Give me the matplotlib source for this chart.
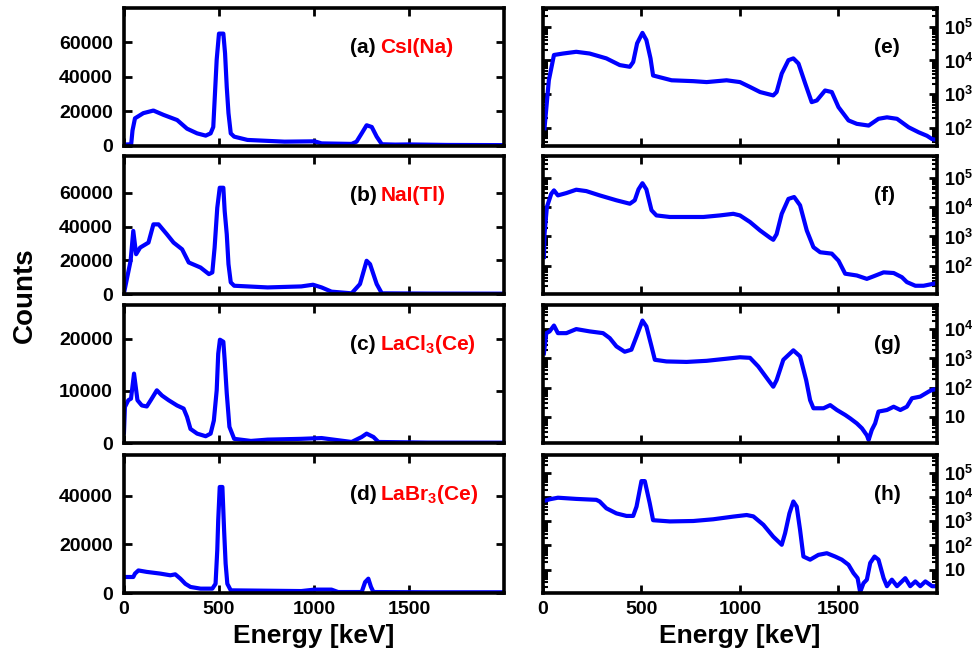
import numpy as np
import matplotlib.pyplot as plt
from matplotlib.ticker import FixedLocator, LogLocator, FuncFormatter, NullFormatter

plt.rcParams['font.family'] = ['Liberation Sans', 'DejaVu Sans']
plt.rcParams['font.weight'] = 'bold'
plt.rcParams['mathtext.fontset'] = 'custom'
plt.rcParams['mathtext.bf'] = 'Liberation Sans:bold'
plt.rcParams['mathtext.rm'] = 'Liberation Sans'

# spectra: energy [keV] and counts
a_e = [0, 38, 45, 58, 102, 155, 208, 280, 332, 385, 430, 456, 470, 479, 488, 500, 523, 532, 541, 550,
       562, 580, 650, 845, 1003, 1040, 1198, 1224, 1251, 1277, 1304, 1330, 1357, 1428, 1498, 1700, 2000]
a_c = [800, 1000, 9000, 16000, 19000, 20500, 18000, 15000, 10000, 7300, 6000, 7300, 11000, 30500, 50000,
       65000, 65000, 53600, 34000, 19000, 7300, 5400, 3500, 2500, 2700, 1500, 1200, 2500, 7300, 12000,
       11000, 5400, 1000, 800, 900, 600, 500]

b_e = [0, 35, 49, 64, 85, 129, 155, 182, 226, 261, 306, 341, 403, 447, 465, 477, 491, 504, 523, 530,
       541, 550, 562, 580, 756, 933, 995, 1040, 1092, 1198, 1242, 1277, 1295, 1330, 1357, 1600, 2000]
b_c = [500, 19700, 37400, 23600, 27500, 30500, 41300, 41300, 35400, 30500, 26500, 18700, 15700, 11800,
       12800, 27500, 51100, 63000, 63000, 49200, 35400, 17700, 6900, 4900, 3900, 4500, 5500, 3900, 1400,
       400, 5900, 19700, 17700, 5900, 400, 250, 200]

c_e = [0, 5, 23, 37, 53, 71, 94, 120, 141, 173, 200, 235, 279, 314, 332, 350, 385, 430, 456, 473, 488,
       496, 505, 523, 530, 541, 555, 580, 668, 756, 933, 1040, 1092, 1198, 1251, 1277, 1313, 1339, 1600, 2000]
c_c = [2000, 6900, 8200, 8500, 13300, 8200, 7200, 7000, 8200, 10100, 9100, 8200, 7200, 6600, 5000, 2700,
       1800, 1300, 1800, 4300, 10100, 17100, 19800, 19400, 15900, 9500, 3100, 800, 400, 650, 800, 950,
       700, 200, 1150, 1800, 1150, 200, 80, 60]

d_e = [0, 49, 58, 76, 120, 191, 244, 270, 297, 323, 350, 403, 465, 482, 491, 496, 504, 518, 527, 535,
       544, 562, 933, 1003, 1092, 1127, 1251, 1269, 1286, 1300, 1313, 1600, 2000]
d_c = [6600, 6600, 8000, 9300, 8700, 8000, 7300, 7700, 5900, 3800, 2500, 1800, 1800, 3800, 17600, 30000,
       43700, 43700, 25800, 12100, 3800, 1100, 800, 1400, 1400, 400, 400, 4500, 5900, 2500, 400, 300, 300]

e_e = [8, 30, 56, 102, 169, 237, 322, 390, 441, 458, 478, 505, 525, 546, 559, 593, 653, 763, 831, 932,
       1000, 1051, 1102, 1169, 1186, 1212, 1246, 1271, 1297, 1331, 1364, 1390, 1432, 1466, 1500, 1551,
       1593, 1653, 1703, 1746, 1797, 1856, 1907, 1949, 1975, 2000]
e_c = [100, 2600, 14500, 16000, 18000, 16000, 11500, 7300, 6500, 9000, 32000, 65000, 40000, 11500, 3600,
       3200, 2600, 2450, 2300, 2600, 2300, 1650, 1170, 930, 1170, 4100, 10200, 11500, 8100, 2100, 590,
       660, 1300, 1170, 420, 170, 135, 120, 190, 210, 190, 107, 76, 60, 48, 45]

f_e = [5, 8, 20, 42, 56, 76, 119, 169, 220, 288, 373, 441, 466, 485, 505, 525, 551, 576, 644, 814, 898,
       966, 1000, 1051, 1102, 1153, 1169, 1186, 1212, 1246, 1275, 1305, 1339, 1373, 1407, 1466, 1500,
       1534, 1593, 1644, 1678, 1729, 1780, 1822, 1847, 1890, 1932, 1975, 2000]
f_c = [200, 1200, 10000, 28000, 37000, 25000, 30000, 39000, 35000, 25000, 17000, 13000, 17000, 40000,
       65000, 40000, 7800, 5200, 4600, 4600, 5200, 5900, 5200, 3100, 1600, 900, 770, 1200, 5900, 19000,
       22000, 11500, 1600, 430, 290, 260, 150, 54, 47, 36, 44, 60, 57, 41, 28, 21, 21, 24, 26]

g_e = [5, 17, 34, 56, 76, 119, 169, 237, 305, 339, 373, 415, 449, 475, 505, 525, 551, 568, 627, 729, 831,
       932, 1000, 1051, 1093, 1144, 1169, 1186, 1220, 1271, 1305, 1336, 1356, 1373, 1424, 1458, 1492,
       1534, 1559, 1593, 1619, 1644, 1653, 1669, 1686, 1703, 1746, 1780, 1814, 1847, 1873, 1915, 1958,
       1975, 2000]
g_c = [1500, 7400, 8500, 13500, 7400, 7400, 10200, 8500, 7400, 5000, 2600, 1700, 2000, 5700, 20000,
       12600, 2600, 900, 790, 760, 830, 980, 1100, 1050, 530, 180, 107, 180, 900, 1900, 1180, 180, 37,
       19.5, 19.5, 25, 17, 11.5, 8.8, 5.9, 4, 2.3, 1.6, 3.5, 5.9, 15, 17, 22, 17, 22, 43, 49, 73, 83, 90]

h_e = [2, 13, 34, 76, 169, 271, 288, 322, 373, 424, 458, 475, 500, 517, 542, 559, 644, 763, 864, 966,
       1034, 1068, 1119, 1169, 1212, 1229, 1251, 1271, 1288, 1305, 1322, 1356, 1398, 1441, 1483, 1517,
       1551, 1576, 1597, 1610, 1627, 1644, 1661, 1683, 1703, 1729, 1746, 1771, 1797, 1839, 1864, 1890,
       1915, 1941, 1975, 2000]
h_c = [7000, 7100, 8000, 9300, 8300, 7600, 6500, 3400, 2100, 1650, 1650, 4000, 45000, 45000, 5500, 1100,
       980, 1020, 1200, 1550, 1800, 1580, 710, 230, 107, 320, 2100, 6500, 4000, 440, 35, 26, 41, 48, 35,
       26, 16, 7.3, 4.5, 1.2, 2.8, 3.9, 19, 35, 26, 4.5, 2.1, 3.9, 2.1, 4.5, 2.1, 3.3, 2.1, 3.3, 2.1, 2.1]

left_tags = ['(a)', '(b)', '(c)', '(d)']
left_names = ['CsI(Na)', 'NaI(Tl)', r'LaCl$_\mathbf{3}$(Ce)', r'LaBr$_\mathbf{3}$(Ce)']
right_tags = ['(e)', '(f)', '(g)', '(h)']
left_ymax = [80000, 82000, 26500, 57000]
left_yticks = [[0, 20000, 40000, 60000], [0, 20000, 40000, 60000], [0, 10000, 20000], [0, 20000, 40000]]
right_ylim = [(30, 3.6e5), (11, 5.6e5), (1.25, 7e4), (1.1, 5.5e5)]
right_yticks = [[1e2, 1e3, 1e4, 1e5], [1e2, 1e3, 1e4, 1e5], [1e1, 1e2, 1e3, 1e4], [1e1, 1e2, 1e3, 1e4, 1e5]]
xticks = [0, 500, 1000, 1500]

left_data = [(a_e, a_c), (b_e, b_c), (c_e, c_c), (d_e, d_c)]
right_data = [(e_e, e_c), (f_e, f_c), (g_e, g_c), (h_e, h_c)]


def log_label(v, pos):
    p = int(round(np.log10(v)))
    if p == 1:
        return r'$\mathbf{10}$'
    return r'$\mathbf{10^{%d}}$' % p


def frame(ax):
    for s in ax.spines.values():
        s.set_linewidth(2.6)
    ax.tick_params(which='major', direction='in', length=6, width=2, top=True, bottom=True,
                   left=True, right=True, labelsize=14)


fig = plt.figure(figsize=(9.73, 6.57), dpi=100)
bottoms = [0.7778, 0.5525, 0.3257, 0.0974]
hgt = 0.2105

for i in range(4):
    # linear panel
    ax = fig.add_axes([0.1274, bottoms[i], 0.3906, hgt])
    ax.plot(left_data[i][0], left_data[i][1], color='#0000ff', lw=3)
    ax.set_xlim(0, 2000)
    ax.set_ylim(0, left_ymax[i])
    ax.set_xticks(xticks)
    ax.set_yticks(left_yticks[i])
    frame(ax)
    ax.tick_params(axis='y', pad=8)
    ax.tick_params(axis='x', pad=6, labelbottom=(i == 3))
    ax.text(0.595, 0.71, left_tags[i], transform=ax.transAxes, fontsize=15, fontweight='bold',
            va='center', ha='left', color='black')
    ax.text(0.675, 0.71, left_names[i], transform=ax.transAxes, fontsize=15, fontweight='bold',
            va='center', ha='left', color='#ff0000')
    if i == 3:
        ax.set_xlabel('Energy [keV]', fontsize=19, fontweight='bold', labelpad=4)

    # log panel
    ax = fig.add_axes([0.558, bottoms[i], 0.405, hgt])
    ax.plot(right_data[i][0], right_data[i][1], color='#0000ff', lw=3)
    ax.set_yscale('log')
    ax.set_xlim(0, 2000)
    ax.set_ylim(*right_ylim[i])
    ax.set_xticks(xticks)
    ax.yaxis.set_major_locator(FixedLocator(right_yticks[i]))
    ax.yaxis.set_major_formatter(FuncFormatter(log_label))
    ax.yaxis.set_minor_locator(LogLocator(base=10, subs=np.arange(2, 10), numticks=20))
    ax.yaxis.set_minor_formatter(NullFormatter())
    frame(ax)
    ax.tick_params(axis='y', which='minor', direction='in', length=3.5, width=1.5, left=True, right=True)
    ax.tick_params(axis='y', which='both', labelleft=False, labelright=True, labelsize=13, pad=5)
    ax.tick_params(axis='x', pad=6, labelbottom=(i == 3))
    ax.text(0.84, 0.71, right_tags[i], transform=ax.transAxes, fontsize=15, fontweight='bold',
            va='center', ha='left', color='black')
    if i == 3:
        ax.set_xlabel('Energy [keV]', fontsize=19, fontweight='bold', labelpad=4)

fig.text(0.026, 0.551, 'Counts', rotation=90, fontsize=20, fontweight='bold', va='center', ha='center')

fig.savefig('out.png', dpi=100)
